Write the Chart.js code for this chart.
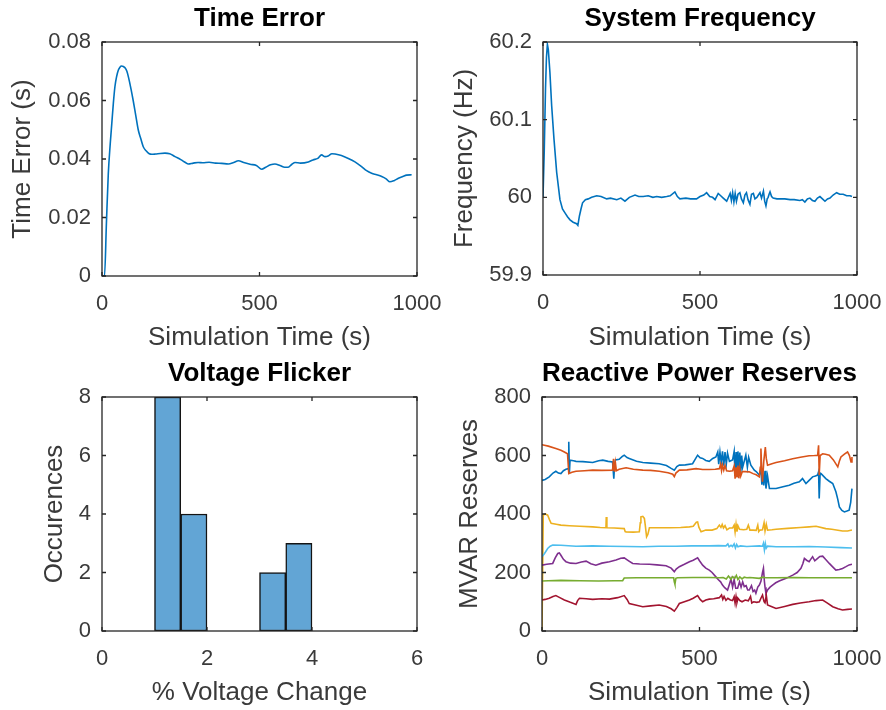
<!DOCTYPE html>
<html>
<head>
<meta charset="utf-8">
<script src="https://cdn.jsdelivr.net/npm/chart.js@4.4.1/dist/chart.umd.min.js"></script>
<style>
  html, body { margin: 0; padding: 0; background: #ffffff; }
  body { width: 886px; height: 710px; position: relative; overflow: hidden; }
  .panel { position: absolute; width: 443px; height: 355px; }
</style>
</head>
<body>
<div class="panel" style="left:0;top:0"><canvas id="c1"></canvas></div>
<div class="panel" style="left:443px;top:0"><canvas id="c2"></canvas></div>
<div class="panel" style="left:0;top:355px"><canvas id="c3"></canvas></div>
<div class="panel" style="left:443px;top:355px"><canvas id="c4"></canvas></div>
<script>
// ---------------- DATA ----------------
const timeErrorPoints = [[0,0],[8,0],[14,0.018],[20,0.035],[26,0.045],[31,0.052],[36,0.059],[41,0.0647],[46,0.068],[52,0.0704],[57,0.0714],[62,0.0718],[68,0.0716],[73,0.0712],[79,0.070],[84,0.068],[92,0.064],[99,0.060],[107,0.055],[115,0.050],[123,0.047],[131,0.0442],[140,0.0428],[150,0.0418],[158,0.0416],[170,0.0417],[185,0.0419],[200,0.042],[215,0.0418],[232,0.0408],[250,0.0398],[265,0.0388],[274,0.0383],[290,0.0386],[305,0.0388],[320,0.0387],[340,0.0389],[360,0.0386],[380,0.0385],[401,0.0383],[418,0.0388],[433,0.0394],[450,0.0388],[470,0.0382],[490,0.0378],[507,0.0365],[520,0.0372],[535,0.038],[549,0.0383],[565,0.0378],[580,0.0372],[591,0.0372],[603,0.0382],[613,0.0388],[630,0.0386],[655,0.039],[670,0.0397],[685,0.0402],[697,0.0414],[708,0.0408],[718,0.041],[730,0.0418],[740,0.0417],[760,0.0412],[782,0.0402],[803,0.039],[824,0.0374],[840,0.036],[856,0.0351],[872,0.0346],[888,0.034],[902,0.0332],[914,0.0322],[927,0.0326],[941,0.0334],[955,0.034],[967,0.0345],[983,0.0346]];

const frequencyPoints = [[0,60.0],[3,60.0],[4,60.06],[8,60.14],[11,60.18],[14,60.197],[17,60.19],[22,60.161],[27.6,60.118],[35,60.075],[43.6,60.032],[54,59.997],[62,59.985],[70,59.98],[78,59.975],[86,59.971],[96,59.968],[107,59.966],[111,59.964],[116,59.976],[121,59.985],[126,59.993],[135,59.997],[144,59.998],[155,60.0],[171,60.002],[185,60.001],[203,59.998],[215,59.999],[235,59.997],[248,59.999],[261,59.995],[275,60.0],[293,60.003],[305,60.001],[319,60.001],[335,60.002],[350,60.0],[362,60.001],[378,60.0],[394,60.001],[405,60.002],[420,60.007],[428,60.001],[436,59.998],[455,59.999],[470,59.998],[489,59.998],[500,60.001],[512,60.003],[521,60.006],[531,60.001],[540,60.0],[548,59.997],[558,60.005],[566,60.002],[574,59.999],[585,59.995],[596,60.005],[600,59.996],[604,60.006],[608,59.994],[612,60.005],[616,59.995],[621,60.004],[627,60.006],[632,59.998],[638,59.993],[643,60.003],[648,60.006],[653,59.997],[659,59.991],[664,60.004],[670,60.005],[675,59.998],[681,60.0],[686,60.003],[691,60.006],[696,59.999],[702,60.008],[706,59.995],[710,59.989],[714,59.998],[717,60.0],[720,60.004],[723,60.007],[728,60.001],[733,59.999],[745,59.998],[755,59.998],[770,59.998],[787,59.997],[800,59.997],[818,59.996],[826,59.997],[834,59.994],[842,59.998],[850,59.999],[858,59.996],[866,59.995],[874,59.999],[882,60.001],[890,59.998],[898,59.995],[906,59.998],[914,59.999],[924,60.003],[935,60.006],[945,60.004],[956,60.004],[967,60.002],[978,60.002],[984,60.001]];

// histogram: bin centres (% voltage change) and counts
const flickerBinCenters = [1.25, 1.75, 3.25, 3.75];
const flickerCounts = [8, 4, 2, 3];

const rpBlue = [[0,515],[10,518],[23,527],[35,540],[44,546],[52,540],[60,538],[68,548],[76,553],[84,555],[85,647],[87,540],[89,584],[100,582],[108,580],[130,579],[161,576],[180,582],[193,584],[210,580],[224,578],[228,521],[230,560],[233,585],[245,587],[255,597],[261,601],[270,593],[277,590],[300,580],[320,576],[345,574],[372,572],[395,566],[410,556],[420,550],[428,562],[436,567],[455,568],[478,572],[488,590],[494,601],[502,592],[510,590],[520,583],[531,580],[542,590],[552,595],[558,612],[561,570],[565,612],[569,575],[573,614],[577,565],[581,612],[585,570],[589,608],[595,580],[605,585],[610,614],[613,530],[616,612],[619,527],[622,614],[625,535],[628,610],[631,540],[634,600],[637,560],[647,601],[652,560],[656,594],[663,567],[674,550],[680,545],[690,533],[695,555],[698,500],[700,555],[704,498],[708,548],[711,487],[716,530],[722,487],[743,487],[765,493],[785,498],[800,505],[817,510],[827,521],[833,512],[838,504],[848,515],[859,527],[868,530],[875,533],[878,544],[880,453],[883,540],[886,538],[901,521],[912,512],[923,504],[933,476],[939,450],[944,424],[952,412],[960,407],[968,410],[975,413],[980,440],[984,487]];
const rpOrange = [[0,637],[20,632],[44,624],[60,618],[71,612],[81,606],[85,538],[95,543],[108,546],[135,548],[161,550],[190,549],[224,550],[227,589],[230,545],[233,575],[236,548],[245,553],[267,558],[290,553],[320,550],[345,549],[372,546],[400,541],[415,536],[420,528],[425,540],[436,550],[460,551],[489,555],[510,552],[531,552],[550,553],[563,555],[567,570],[570,548],[573,567],[577,550],[581,566],[586,548],[595,546],[605,548],[610,564],[613,521],[616,560],[619,525],[622,566],[625,522],[628,556],[631,530],[636,545],[645,545],[658,544],[670,538],[680,534],[690,527],[693,560],[695,624],[698,540],[700,510],[704,580],[709,629],[712,590],[716,567],[730,572],[743,576],[770,582],[796,589],[820,594],[848,599],[865,600],[875,601],[878,635],[880,533],[883,600],[891,606],[900,604],[912,601],[925,585],[939,561],[944,580],[949,595],[960,605],[970,612],[976,600],[981,578],[984,595]];
const rpYellow = [[0,0],[3,0],[4,396],[10,400],[18,396],[24,380],[29,368],[45,365],[60,362],[87,360],[120,358],[161,356],[185,354],[203,353],[204,390],[206,353],[230,352],[261,350],[264,340],[267,339],[290,338],[309,339],[312,370],[314,390],[320,392],[325,385],[328,360],[332,322],[336,330],[341,353],[370,353],[404,353],[440,354],[468,356],[480,358],[490,372],[494,373],[498,355],[505,339],[520,345],[540,345],[555,350],[563,362],[568,354],[572,364],[576,352],[581,360],[587,346],[595,352],[605,352],[610,362],[613,338],[616,365],[619,340],[622,360],[627,348],[640,346],[650,348],[655,362],[660,345],[670,345],[680,344],[685,362],[688,340],[692,345],[700,346],[705,370],[708,342],[712,365],[716,345],[730,346],[743,348],[780,351],[820,354],[848,356],[870,358],[901,350],[920,348],[954,342],[970,342],[984,345]];
const rpPurple = [[0,225],[15,228],[34,231],[42,250],[50,265],[55,267],[60,259],[68,245],[76,237],[90,232],[108,231],[125,236],[140,239],[155,230],[171,225],[190,232],[214,237],[235,243],[250,249],[261,250],[275,240],[288,231],[310,229],[341,228],[365,226],[394,223],[410,215],[420,203],[426,212],[436,220],[452,228],[468,237],[480,242],[494,250],[500,240],[510,225],[520,215],[531,208],[540,200],[552,185],[560,175],[567,168],[573,157],[580,148],[589,140],[595,160],[600,178],[605,150],[610,176],[615,146],[621,146],[627,168],[632,150],[637,168],[642,152],[648,155],[653,140],[658,140],[665,155],[670,135],[675,140],[679,129],[685,150],[690,157],[695,170],[700,200],[703,214],[706,170],[708,150],[711,129],[716,140],[724,150],[732,157],[742,165],[753,171],[775,180],[796,191],[810,200],[822,214],[828,230],[833,248],[840,242],[848,237],[853,245],[859,254],[866,240],[875,248],[882,255],[891,256],[900,245],[912,231],[922,220],[933,208],[944,210],[954,214],[965,220],[975,226],[984,228]];
const rpGreen = [[0,171],[20,172],[60,173],[120,172],[180,171],[230,172],[256,172],[261,181],[300,182],[350,182],[400,182],[418,182],[420,168],[422,160],[425,180],[430,182],[480,183],[530,183],[563,182],[575,183],[585,178],[592,188],[600,177],[605,186],[612,180],[617,190],[622,176],[628,185],[635,178],[642,184],[650,182],[660,183],[690,180],[700,184],[710,182],[743,182],[800,183],[850,182],[900,182],[950,182],[984,182]];
const rpCyan = [[0,254],[8,265],[18,282],[26,290],[34,294],[60,293],[108,290],[160,291],[214,290],[270,289],[320,288],[370,290],[425,290],[475,291],[531,291],[560,292],[584,291],[590,298],[594,288],[600,293],[605,289],[610,298],[614,284],[618,296],[622,288],[630,291],[650,289],[665,290],[690,291],[700,290],[703,300],[706,277],[709,299],[712,283],[716,290],[743,288],[800,288],[848,289],[900,287],[950,285],[984,284]];
const rpDarkRed = [[0,106],[10,108],[23,112],[35,118],[44,121],[55,115],[71,106],[90,98],[108,91],[113,104],[119,112],[140,110],[161,108],[190,110],[214,109],[240,114],[261,121],[270,108],[277,94],[300,88],[320,83],[345,86],[372,89],[395,84],[410,76],[420,68],[428,80],[436,94],[452,100],[468,106],[480,112],[494,121],[502,108],[510,100],[520,106],[531,109],[545,110],[563,114],[570,123],[574,108],[578,118],[584,105],[590,112],[598,106],[605,104],[610,117],[613,95],[616,118],[619,98],[622,112],[628,104],[635,100],[645,106],[655,103],[662,118],[666,96],[672,100],[682,98],[690,100],[695,112],[700,123],[705,100],[708,96],[712,122],[716,89],[728,84],[743,77],[770,84],[796,91],[820,96],[848,100],[870,104],[891,106],[905,96],[923,83],[940,76],[954,72],[970,74],[984,75]];

const timeTicks = [0, 500, 1000];
const timeErrorTicks = [0, 0.02, 0.04, 0.06, 0.08];
const freqTicks = [59.9, 60, 60.1, 60.2];
const flickerXTicks = [0, 2, 4, 6];
const flickerYTicks = [0, 2, 4, 6, 8];
const mvarTicks = [0, 200, 400, 600, 800];

// ---------------- STYLE ----------------
const FONT = '"Liberation Sans", Arial, Helvetica, sans-serif';
const AXIS_COLOR = '#262626';
const TICK_COLOR = '#3a3a3a';
const MAT = ['#0072BD', '#D95319', '#EDB120', '#7E2F8E', '#77AC30', '#4DBEEE', '#A2142F'];
const LABEL_SIZE = 26;
const TICK_SIZE = 22;

const toXY = pts => pts.map(p => ({x: p[0], y: p[1]}));

// MATLAB-like box, inward tick marks and a title centred over the plot area
const boxPlugin = {
  id: 'matlabBox',
  afterDraw(chart, args, opts) {
    const {ctx, chartArea: a, scales} = chart;
    const x = scales.x, y = scales.y;
    ctx.save();
    ctx.strokeStyle = AXIS_COLOR;
    ctx.lineWidth = 1.3;
    ctx.beginPath();
    const L = 4;
    x.ticks.forEach(t => {
      const px = x.getPixelForValue(t.value);
      ctx.moveTo(px, a.bottom); ctx.lineTo(px, a.bottom - L);
      ctx.moveTo(px, a.top); ctx.lineTo(px, a.top + L);
    });
    y.ticks.forEach(t => {
      const py = y.getPixelForValue(t.value);
      ctx.moveTo(a.left, py); ctx.lineTo(a.left + L, py);
      ctx.moveTo(a.right, py); ctx.lineTo(a.right - L, py);
    });
    ctx.stroke();
    ctx.strokeRect(a.left, a.top, a.right - a.left, a.bottom - a.top);
    if (opts && opts.text) {
      ctx.fillStyle = '#000000';
      ctx.font = 'bold ' + LABEL_SIZE + 'px ' + FONT;
      ctx.textAlign = 'center';
      ctx.textBaseline = 'middle';
      ctx.fillText(opts.text, (a.left + a.right) / 2, opts.y);
    }
    ctx.restore();
  }
};

function fixedTicks(list) {
  return function(scale) { scale.ticks = list.map(v => ({value: v})); };
}

function makeOptions(cfg) {
  const lh = LABEL_SIZE * 1.2;
  return {
    responsive: true,
    maintainAspectRatio: false,
    animation: false,
    events: [],
    layout: { padding: { left: 0, right: 443 - cfg.right, top: cfg.top, bottom: 0 } },
    plugins: {
      legend: { display: false },
      tooltip: { enabled: false },
      title: { display: false },
      matlabBox: { text: cfg.title, y: 19 }
    },
    scales: {
      x: {
        type: 'linear',
        offset: false,
        min: cfg.xmin, max: cfg.xmax,
        afterFit: s => { s.height = 355 - cfg.bottom; s.paddingLeft = 0; s.paddingRight = 0; },
        afterBuildTicks: fixedTicks(cfg.xticks),
        grid: { display: false, drawTicks: false, offset: false },
        border: { display: false },
        ticks: {
          color: TICK_COLOR, padding: 15, maxRotation: 0, autoSkip: false,
          font: { family: FONT, size: TICK_SIZE },
          callback: v => String(parseFloat(Number(v).toFixed(4)))
        },
        title: {
          display: true, text: cfg.xlabel, color: TICK_COLOR,
          font: { family: FONT, size: LABEL_SIZE, lineHeight: 1.2 },
          padding: { top: 0, bottom: 355 - 338 - lh / 2 }
        }
      },
      y: {
        type: 'linear',
        min: cfg.ymin, max: cfg.ymax,
        afterFit: s => { s.width = cfg.left; s.paddingTop = 0; s.paddingBottom = 0; },
        afterBuildTicks: fixedTicks(cfg.yticks),
        grid: { display: false, drawTicks: false },
        border: { display: false },
        ticks: {
          color: TICK_COLOR, padding: 11, autoSkip: false,
          font: { family: FONT, size: TICK_SIZE },
          callback: v => String(parseFloat(Number(v).toFixed(4)))
        },
        title: {
          display: true, text: cfg.ylabel, color: TICK_COLOR,
          font: { family: FONT, size: LABEL_SIZE, lineHeight: 1.2 },
          padding: { top: cfg.ylabelX - lh / 2, bottom: 0 }
        }
      }
    }
  };
}

const lineDS = (pts, color, order) => ({
  data: toXY(pts), borderColor: color, borderWidth: 1.6, pointRadius: 0,
  fill: false, tension: 0, order: order
});

// Time Error
new Chart(document.getElementById('c1'), {
  type: 'line',
  data: { datasets: [ Object.assign(lineDS(timeErrorPoints, MAT[0], 0), {cubicInterpolationMode: 'monotone'}) ] },
  options: makeOptions({ title: 'Time Error', xlabel: 'Simulation Time (s)', ylabel: 'Time Error (s)',
    left: 102, right: 417, top: 42, bottom: 276, ylabelX: 23,
    xmin: 0, xmax: 1000, ymin: 0, ymax: 0.08, xticks: timeTicks, yticks: timeErrorTicks }),
  plugins: [boxPlugin]
});

// System Frequency
new Chart(document.getElementById('c2'), {
  type: 'line',
  data: { datasets: [ lineDS(frequencyPoints, MAT[0], 0) ] },
  options: makeOptions({ title: 'System Frequency', xlabel: 'Simulation Time (s)', ylabel: 'Frequency (Hz)',
    left: 100, right: 414, top: 42, bottom: 275, ylabelX: 22,
    xmin: 0, xmax: 1000, ymin: 59.9, ymax: 60.2, xticks: timeTicks, yticks: freqTicks }),
  plugins: [boxPlugin]
});

// Voltage Flicker histogram
new Chart(document.getElementById('c3'), {
  type: 'bar',
  data: { datasets: [{
    data: flickerBinCenters.map((c, i) => ({x: c, y: flickerCounts[i]})),
    backgroundColor: '#62a5d5', borderColor: '#141414', borderWidth: 1.5,
    barPercentage: 1, categoryPercentage: 1, grouped: false, borderSkipped: false
  }] },
  options: makeOptions({ title: 'Voltage Flicker', xlabel: '% Voltage Change', ylabel: 'Occurences',
    left: 102, right: 417, top: 42, bottom: 276, ylabelX: 55,
    xmin: 0, xmax: 6, ymin: 0, ymax: 8, xticks: flickerXTicks, yticks: flickerYTicks }),
  plugins: [boxPlugin]
});

// Reactive Power Reserves
const rpSeries = [rpBlue, rpOrange, rpYellow, rpPurple, rpGreen, rpCyan, rpDarkRed];
new Chart(document.getElementById('c4'), {
  type: 'line',
  data: { datasets: rpSeries.map((s, i) => lineDS(s, MAT[i], 6 - i)) },
  options: makeOptions({ title: 'Reactive Power Reserves', xlabel: 'Simulation Time (s)', ylabel: 'MVAR Reserves',
    left: 99, right: 414, top: 42, bottom: 276, ylabelX: 27,
    xmin: 0, xmax: 1000, ymin: 0, ymax: 800, xticks: timeTicks, yticks: mvarTicks }),
  plugins: [boxPlugin]
});
</script>
</body>
</html>
